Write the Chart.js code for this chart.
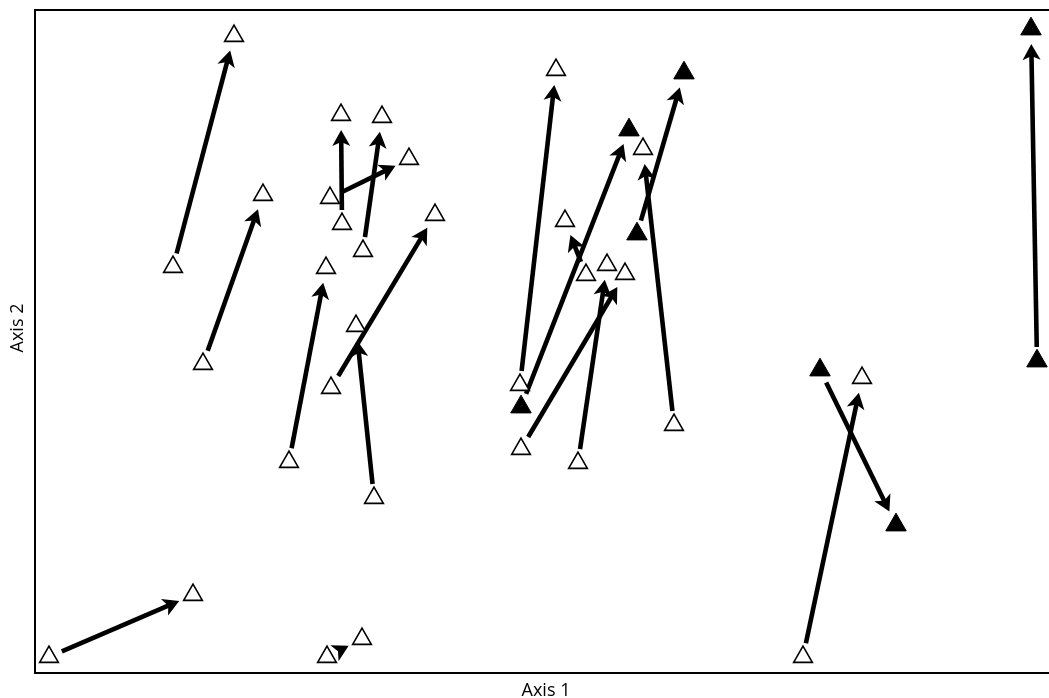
<!DOCTYPE html>
<html>
<head>
<meta charset="utf-8">
<script src="https://cdn.jsdelivr.net/npm/chart.js@4/dist/chart.umd.min.js"></script>
<style>
  html, body { margin: 0; padding: 0; background: #fff; overflow: hidden; }
  canvas { display: block; }
</style>
</head>
<body>
<canvas id="c" width="1049" height="698" style="width:1049px;height:698px"></canvas>
<script>
// Ordination scores: each sample moves from its first position (x1, y1) to its second (x2, y2)
const x1 = [1.38, 1.68, 3.07, 2.95, 3.28, 2.54, 2.96, 3.39, 4.85, 4.86, 6.39, 6.02, 5.51, 5.43, 4.86, 10.02, 7.85, 7.68, 0.14, 2.92];
const y1 = [4.06, 3.09, 4.49, 4.75, 4.22, 2.11, 2.85, 1.75, 2.88, 2.66, 2.48, 4.39, 3.98, 2.10, 2.24, 3.12, 3.03, 0.16, 0.16, 0.16];
const x2 = [1.99, 2.28, 3.06, 3.74, 3.47, 2.91, 4.00, 3.21, 5.21, 5.94, 6.08, 6.49, 5.30, 5.72, 5.90, 9.96, 8.61, 8.27, 1.58, 3.27];
const y2 = [6.37, 4.78, 5.58, 5.14, 5.56, 4.05, 4.58, 3.47, 6.03, 5.43, 5.24, 6.00, 4.52, 4.08, 3.99, 6.44, 1.48, 2.95, 0.78, 0.34];
// Group membership of each sample (true = filled symbol)
const filled = [false, false, false, false, false, false, false, false, false, true, false, true, false, false, false, true, true, false, false, false];

const axisXTitle = 'Axis 1';
const axisYTitle = 'Axis 2';

function pts(sel) {
  const out = [];
  for (let i = 0; i < x1.length; i++) {
    if (filled[i] === sel) {
      out.push({ x: x1[i], y: y1[i] });
      out.push({ x: x2[i], y: y2[i] });
    }
  }
  return out;
}

// Arrows from first to second position, drawn under the symbols
const arrowPlugin = {
  id: 'arrows',
  beforeDatasetsDraw(chart) {
    const ctx = chart.ctx;
    const sx = chart.scales.x, sy = chart.scales.y;
    const tailGap = 14, tipGap = 15, headLen = 16, headHalf = 9, notch = 12;
    ctx.save();
    ctx.strokeStyle = '#000';
    ctx.fillStyle = '#000';
    ctx.lineWidth = 4.6;
    ctx.lineCap = 'butt';
    for (let i = 0; i < x1.length; i++) {
      const ax = sx.getPixelForValue(x1[i]), ay = sy.getPixelForValue(y1[i]);
      const bx = sx.getPixelForValue(x2[i]), by = sy.getPixelForValue(y2[i]);
      const dx = bx - ax, dy = by - ay;
      const len = Math.hypot(dx, dy);
      const ux = dx / len, uy = dy / len;
      const nx = -uy, ny = ux;
      const tx = ax + ux * tailGap, ty = ay + uy * tailGap;
      const px = bx - ux * tipGap, py = by - uy * tipGap;
      const mx = px - ux * notch, my = py - uy * notch;
      ctx.beginPath();
      ctx.moveTo(tx, ty);
      ctx.lineTo(mx + ux * 2, my + uy * 2);
      ctx.stroke();
      ctx.beginPath();
      ctx.moveTo(px, py);
      ctx.lineTo(px - ux * headLen + nx * headHalf, py - uy * headLen + ny * headHalf);
      ctx.lineTo(mx, my);
      ctx.lineTo(px - ux * headLen - nx * headHalf, py - uy * headLen - ny * headHalf);
      ctx.closePath();
      ctx.fill();
    }
    ctx.restore();
  }
};

// Open frame (left, top, bottom) and axis titles
const framePlugin = {
  id: 'frame',
  afterDraw(chart) {
    const ctx = chart.ctx;
    const a = chart.chartArea;
    ctx.save();
    ctx.strokeStyle = '#000';
    ctx.lineWidth = 2;
    ctx.beginPath();
    ctx.moveTo(a.right + 2, a.top);
    ctx.lineTo(a.left, a.top);
    ctx.lineTo(a.left, a.bottom);
    ctx.lineTo(a.right + 2, a.bottom);
    ctx.stroke();
    ctx.fillStyle = '#000';
    ctx.font = '18px "Open Sans", "Noto Sans", sans-serif';
    ctx.textAlign = 'center';
    ctx.textBaseline = 'alphabetic';
    ctx.fillText(axisXTitle, 546, 696);
    ctx.translate(23, 328);
    ctx.rotate(-Math.PI / 2);
    ctx.fillText(axisYTitle, 0, 0);
    ctx.restore();
  }
};

new Chart(document.getElementById('c'), {
  type: 'scatter',
  data: {
    datasets: [
      {
        label: 'open',
        data: pts(false),
        pointStyle: 'triangle',
        pointRadius: 10.8,
        pointHoverRadius: 10.8,
        backgroundColor: '#fff',
        borderColor: '#000',
        borderWidth: 1.6,
        clip: false
      },
      {
        label: 'filled',
        data: pts(true),
        pointStyle: 'triangle',
        pointRadius: 11.8,
        pointHoverRadius: 11.8,
        backgroundColor: '#000',
        borderColor: '#000',
        borderWidth: 1,
        clip: false
      }
    ]
  },
  options: {
    responsive: false,
    devicePixelRatio: 1,
    animation: false,
    events: [],
    layout: { autoPadding: false, padding: { left: 35, top: 10, right: 0, bottom: 25 } },
    plugins: { legend: { display: false }, tooltip: { enabled: false } },
    scales: {
      x: { type: 'linear', min: 0, max: 10.14, display: false },
      y: { type: 'linear', min: 0, max: 6.63, display: false }
    }
  },
  plugins: [arrowPlugin, framePlugin]
});
</script>
</body>
</html>
